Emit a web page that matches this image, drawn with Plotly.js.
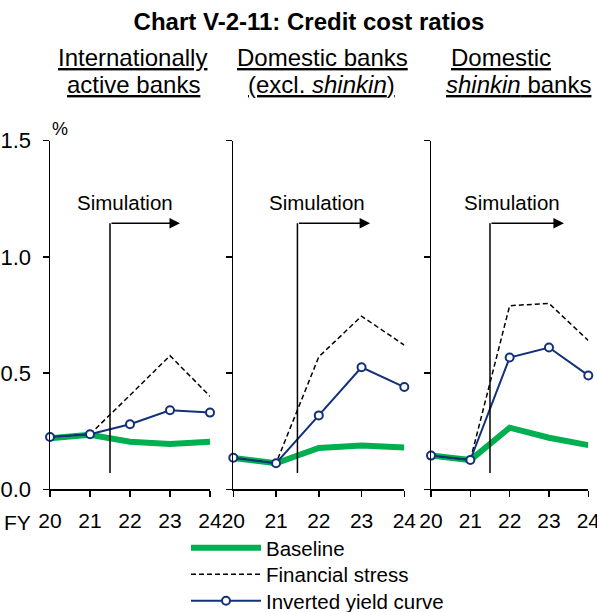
<!DOCTYPE html>
<html>
<head>
<meta charset="utf-8">
<script src="https://cdn.plot.ly/plotly-3.0.1.min.js"></script>
<style>html,body{margin:0;padding:0;background:#fff;}#chart{width:597px;height:612px;}</style>
</head>
<body>
<div id="chart"></div>
<script>
// ---- data ----
const years = [20, 21, 22, 23, 24];
const yearLabels = ["20", "21", "22", "23", "24"];
const panelTitles = [
  ["<u>Internationally</u>", "<u>active banks</u>"],
  ["<u>Domestic banks</u>", "<u>(excl. <i>shinkin</i>)</u>"],
  ["<u>Domestic</u>", "<u><i>shinkin</i> banks</u>"]
];
const seriesNames = ["Baseline", "Financial stress", "Inverted yield curve"];

// Internationally active banks
const baseline1 = [0.22, 0.235, 0.205, 0.195, 0.205];
const stress1   = [0.225, 0.237, 0.405, 0.575, 0.40];
const inverted1 = [0.225, 0.237, 0.28, 0.34, 0.33];
// Domestic banks (excl. shinkin)
const baseline2 = [0.135, 0.112, 0.178, 0.188, 0.18];
const stress2   = [0.136, 0.112, 0.57, 0.745, 0.62];
const inverted2 = [0.136, 0.112, 0.318, 0.525, 0.44];
// Domestic shinkin banks
const baseline3 = [0.145, 0.126, 0.265, 0.222, 0.19];
const stress3   = [0.145, 0.126, 0.79, 0.80, 0.64];
const inverted3 = [0.145, 0.126, 0.567, 0.61, 0.49];

const yTicks = [0, 0.5, 1.0, 1.5];
const simStart = 21.5;

// ---- build ----
const W = 597, H = 612;
const FONT = "Liberation Sans, Arial, sans-serif";
const GREEN = "#00B050", NAVY = "#13307A";
const panels = [
  {b: baseline1, s: stress1, v: inverted1, x0: 50, x1: 210, arrowEnd: 23.25, textX: 21.88},
  {b: baseline2, s: stress2, v: inverted2, x0: 233.3, x1: 404.3, arrowEnd: 23.2, textX: 21.96},
  {b: baseline3, s: stress3, v: inverted3, x0: 431, x1: 588.3, arrowEnd: 23.38, textX: 22.05}
];
const subCenters = [[132.5, 133.5], [322.5, 321.7], [501, 518]];
const yTop = 140.7, yBot = 489.3;
const legendTops = [528, 554.5, 581];
const legendIds = ["legend", "legend2", "legend3"];

const traces = [];
const layout = {
  width: W, height: H,
  margin: {l: 0, r: 0, t: 0, b: 0, autoexpand: false},
  paper_bgcolor: "#fff", plot_bgcolor: "rgba(0,0,0,0)",
  font: {family: FONT, size: 20, color: "#000"},
  title: {text: "<b>Chart V-2-11: Credit cost ratios</b>", font: {family: FONT, size: 24, color: "#000"},
          x: 309 / W, xanchor: "center", xref: "paper", y: 1 - 22 / H, yanchor: "middle", yref: "container"},
  showlegend: true,
  shapes: [], annotations: []
};
legendIds.forEach((id, k) => {
  layout[id] = {x: 186 / W, xanchor: "left", y: 1 - legendTops[k] / H, yanchor: "top",
    font: {family: FONT, size: 20.5, color: "#000"}, bgcolor: "rgba(0,0,0,0)", itemwidth: 70};
});

panels.forEach((p, i) => {
  const n = i + 1;
  const xa = n === 1 ? "x" : "x" + n, ya = n === 1 ? "y" : "y" + n;
  traces.push({x: years, y: p.b, xaxis: xa, yaxis: ya, type: "scatter", mode: "lines", name: seriesNames[0],
    legend: legendIds[0], showlegend: i === 0, cliponaxis: false, line: {color: GREEN, width: 6}});
  traces.push({x: years, y: p.s, xaxis: xa, yaxis: ya, type: "scatter", mode: "lines", name: seriesNames[1],
    legend: legendIds[1], showlegend: i === 0, cliponaxis: false, line: {color: "#000", width: 1.5, dash: "5px,3px"}});
  traces.push({x: years, y: p.v, xaxis: xa, yaxis: ya, type: "scatter", mode: "lines+markers", name: seriesNames[2],
    legend: legendIds[2], showlegend: i === 0, cliponaxis: false, line: {color: NAVY, width: 2},
    marker: {symbol: "circle", size: 8, color: "#fff", line: {color: NAVY, width: 2}}});

  layout["xaxis" + (n === 1 ? "" : n)] = {
    domain: [p.x0 / W, p.x1 / W], anchor: ya, range: [20, 24],
    tickvals: years, ticktext: yearLabels, ticks: "outside", ticklen: 6, tickwidth: 1.5, tickcolor: "#000",
    showline: true, linecolor: "#000", linewidth: 1.5, showgrid: false, zeroline: false,
    ticklabelstandoff: 6, ticklabeloverflow: "allow",
    tickfont: {family: FONT, size: 21, color: "#000"}, fixedrange: true
  };
  layout["yaxis" + (n === 1 ? "" : n)] = {
    domain: [1 - yBot / H, 1 - yTop / H], anchor: xa, range: [0, 1.5],
    tickvals: yTicks, tickformat: ".1f", ticks: "outside", ticklen: 6, tickwidth: 1.5, tickcolor: "#000",
    showline: true, linecolor: "#000", linewidth: 1.5, showgrid: false, zeroline: false,
    ticklabelstandoff: 7, ticklabeloverflow: "allow",
    showticklabels: i === 0, tickfont: {family: FONT, size: 22, color: "#000"}, fixedrange: true
  };

  // simulation marker
  layout.shapes.push({type: "line", xref: xa, yref: ya, x0: simStart, x1: simStart, y0: 0.07, y1: 1.145,
    line: {color: "#000", width: 1.5}});
  layout.annotations.push({xref: xa, yref: ya, axref: xa, ayref: ya, x: p.arrowEnd, y: 1.145, ax: simStart, ay: 1.145,
    text: "", showarrow: true, arrowhead: 2, arrowsize: 1.4, arrowwidth: 1.5, arrowcolor: "#000", standoff: 0});
  layout.annotations.push({xref: xa, yref: ya, x: p.textX, y: 1.233, text: "Simulation", showarrow: false,
    xanchor: "center", yanchor: "middle", font: {family: FONT, size: 20.5, color: "#000"}});

  // panel titles
  panelTitles[i].forEach((t, k) => {
    layout.annotations.push({xref: "paper", yref: "paper", x: subCenters[i][k] / W, y: 1 - (57 + 28 * k) / H,
      text: t, showarrow: false, xanchor: "center", yanchor: "middle", font: {family: FONT, size: 24, color: "#000"}});
  });
});

layout.annotations.push({xref: "paper", yref: "paper", x: 60 / W, y: 1 - 129 / H, text: "%", showarrow: false,
  xanchor: "center", yanchor: "middle", font: {family: FONT, size: 18, color: "#000"}});
layout.annotations.push({xref: "paper", yref: "paper", x: 17 / W, y: 1 - 522 / H, text: "FY", showarrow: false,
  xanchor: "center", yanchor: "middle", font: {family: FONT, size: 21, color: "#000"}});

Plotly.newPlot("chart", traces, layout, {staticPlot: true, displayModeBar: false});
</script>
</body>
</html>
